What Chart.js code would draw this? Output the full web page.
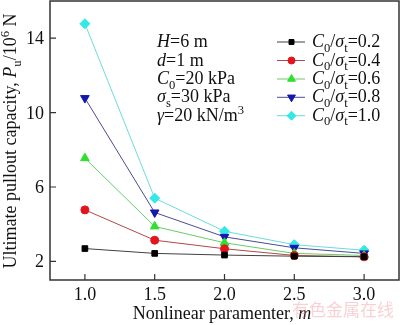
<!DOCTYPE html>
<html>
<head>
<meta charset="utf-8">
<script src="https://cdn.jsdelivr.net/npm/chart.js@4/dist/chart.umd.min.js"></script>
<style>
  html, body { margin: 0; padding: 0; background: #fff; }
  #wrap { width: 400px; height: 325px; position: relative; }
</style>
</head>
<body>
<div id="wrap"><canvas id="chart"></canvas></div>
<script>
const mValues = [1.0, 1.5, 2.0, 2.5, 3.0];
const ratioLabels = ['0.2', '0.4', '0.6', '0.8', '1.0'];
const pu02 = [2.69, 2.43, 2.34, 2.28, 2.25];
const pu04 = [4.77, 3.14, 2.68, 2.32, 2.25];
const pu06 = [7.55, 3.88, 3.00, 2.43, 2.32];
const pu08 = [10.78, 4.63, 3.32, 2.73, 2.43];
const pu10 = [14.78, 5.40, 3.62, 2.90, 2.60];
const yTicks = [2, 6, 10, 14];

const FONT = '"Liberation Serif", "Times New Roman", serif';

const seriesStyle = [
    { line: '#404040', fill: '#000000', shape: 'rect', r: 4, rot: 0 },
    { line: '#b04848', fill: '#e3141c', shape: 'circle', r: 4, rot: 0 },
    { line: '#66cc66', fill: '#2ee02e', shape: 'triangle', r: 5, rot: 0 },
    { line: '#4a4a96', fill: '#1616b0', shape: 'triangle', r: 5, rot: 180 },
    { line: '#6adcdc', fill: '#33e8e8', shape: 'rectRot', r: 5, rot: 0 }
];
const allSeries = [pu02, pu04, pu06, pu08, pu10];

const datasets = allSeries.map((vals, i) => ({
    label: 'C0/σt=' + ratioLabels[i],
    data: mValues.map((m, j) => ({ x: m, y: vals[j] })),
    borderColor: seriesStyle[i].line,
    backgroundColor: seriesStyle[i].fill,
    pointBorderColor: seriesStyle[i].fill,
    pointBackgroundColor: seriesStyle[i].fill,
    pointStyle: seriesStyle[i].shape,
    pointRadius: seriesStyle[i].r,
    pointRotation: seriesStyle[i].rot,
    borderWidth: 1,
    tension: 0
}));

// text made of parts: {t, i (italic), sub, sup}
function drawParts(ctx, parts, x, y, size) {
    let cx = x;
    parts.forEach(p => {
        let s = size, dy = 0;
        if (p.sub) { s = size * 0.7; dy = size * 0.25; }
        if (p.sup) { s = size * 0.7; dy = -size * 0.4; }
        ctx.font = (p.i ? 'italic ' : '') + s + 'px ' + FONT;
        ctx.fillText(p.t, cx, y + dy);
        cx += ctx.measureText(p.t).width;
    });
    return cx - x;
}
function partsWidth(ctx, parts, size) {
    let w = 0;
    parts.forEach(p => {
        const s = (p.sub || p.sup) ? size * 0.7 : size;
        ctx.font = (p.i ? 'italic ' : '') + s + 'px ' + FONT;
        w += ctx.measureText(p.t).width;
    });
    return w;
}

const decorPlugin = {
    id: 'decor',
    afterDraw(chart) {
        const ctx = chart.ctx;
        const xs = chart.scales.x, ys = chart.scales.y;
        const a = chart.chartArea;
        ctx.save();
        // frame
        ctx.strokeStyle = '#333';
        ctx.lineWidth = 1.5;
        ctx.strokeRect(a.left, a.top, a.right - a.left, a.bottom - a.top);
        // inward ticks
        ctx.lineWidth = 1.2;
        ctx.beginPath();
        mValues.forEach(m => {
            const px = xs.getPixelForValue(m);
            ctx.moveTo(px, a.bottom); ctx.lineTo(px, a.bottom - 6);
        });
        yTicks.forEach(v => {
            const py = ys.getPixelForValue(v);
            ctx.moveTo(a.left, py); ctx.lineTo(a.left + 6, py);
        });
        ctx.stroke();

        ctx.fillStyle = '#111';
        const fs = 18;

        // tick labels
        ctx.font = fs + 'px ' + FONT;
        ctx.textAlign = 'center';
        ctx.textBaseline = 'alphabetic';
        mValues.forEach(m => ctx.fillText(m.toFixed(1), xs.getPixelForValue(m), 300));
        ctx.textAlign = 'right';
        yTicks.forEach(v => ctx.fillText(String(v), 44, ys.getPixelForValue(v) + 6));
        ctx.textAlign = 'left';

        // x title
        const xt = [{ t: 'Nonlinear paramenter, ' }, { t: 'm', i: true }];
        const xw = partsWidth(ctx, xt, fs);
        drawParts(ctx, xt, 222 - xw / 2, 319, fs);

        // y title
        const yt = [{ t: 'Ultimate pullout capacity, ' }, { t: 'P', i: true }, { t: 'u', sub: true },
                    { t: '/10' }, { t: '6', sup: true }, { t: ' N' }];
        const yw = partsWidth(ctx, yt, fs);
        ctx.save();
        ctx.translate(16, 141);
        ctx.rotate(-Math.PI / 2);
        drawParts(ctx, yt, -yw / 2, 0, fs);
        ctx.restore();

        // parameter notes
        const notes = [
            [{ t: 'H', i: true }, { t: '=6 m' }],
            [{ t: 'd', i: true }, { t: '=1 m' }],
            [{ t: 'C', i: true }, { t: '0', sub: true }, { t: '=20 kPa' }],
            [{ t: 'σ', i: true }, { t: 's', sub: true }, { t: '=30 kPa' }],
            [{ t: 'γ', i: true }, { t: '=20 kN/m' }, { t: '3', sup: true }]
        ];
        const rowY = [47, 65.5, 84, 102.3, 120.7];
        notes.forEach((n, i) => drawParts(ctx, n, 157, rowY[i], fs));

        // legend
        ratioLabels.forEach((lab, i) => {
            const y = rowY[i] - 5;
            const st = seriesStyle[i];
            ctx.strokeStyle = st.line;
            ctx.lineWidth = 1;
            ctx.beginPath();
            ctx.moveTo(277, y); ctx.lineTo(305, y);
            ctx.stroke();
            ctx.fillStyle = st.fill;
            ctx.strokeStyle = st.fill;
            Chart.helpers.drawPoint(ctx, { pointStyle: st.shape, radius: st.r - 0.5, rotation: st.rot, borderWidth: 1 }, 291.5, y);
            ctx.fillStyle = '#111';
            drawParts(ctx, [{ t: 'C', i: true }, { t: '0', sub: true }, { t: '/' }, { t: 'σ', i: true },
                            { t: 't', sub: true }, { t: '=' + lab }], 312, rowY[i], fs);
        });

        // watermark
        ctx.fillStyle = 'rgba(240, 140, 145, 0.4)';
        ctx.font = '17px "Noto Sans CJK SC"';
        ctx.fillText('有色金属在线', 292, 316);
        ctx.restore();
    }
};

new Chart(document.getElementById('chart'), {
    type: 'line',
    data: { datasets: datasets },
    options: {
        responsive: true,
        maintainAspectRatio: false,
        animation: false,
        layout: { autoPadding: false, padding: { top: 1, right: 1, left: 0, bottom: 0 } },
        plugins: { legend: { display: false }, tooltip: { enabled: false } },
        scales: {
            x: {
                type: 'linear',
                min: 0.75, max: 3.25,
                afterFit: s => { s.height = 45; s.paddingLeft = 0; s.paddingRight = 0; },
                grid: { display: false },
                border: { display: false },
                ticks: { display: false }
            },
            y: {
                min: 1, max: 16,
                afterFit: s => { s.width = 50; s.paddingTop = 0; s.paddingBottom = 0; },
                grid: { display: false },
                border: { display: false },
                ticks: { display: false }
            }
        }
    },
    plugins: [decorPlugin]
});
</script>
</body>
</html>
